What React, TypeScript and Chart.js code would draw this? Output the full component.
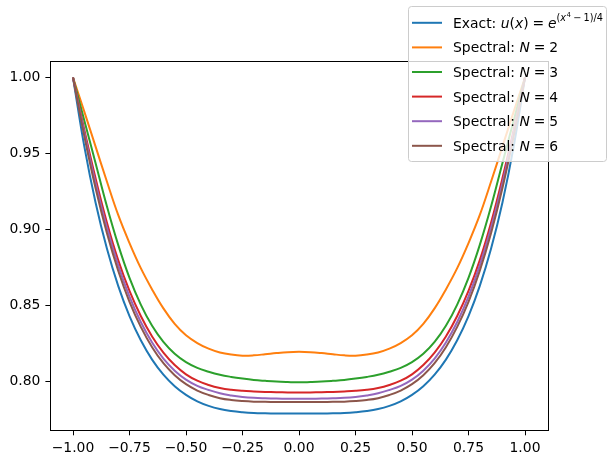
import { useEffect, useRef } from "react";
import { Chart, registerables } from "chart.js";

Chart.register(...registerables);

// ---------- data ----------
const xValues = [
  -1.0, -0.95, -0.9, -0.85, -0.8, -0.75, -0.7, -0.65, -0.6, -0.55, -0.5,
  -0.45, -0.4, -0.35, -0.3, -0.25, -0.2, -0.15, -0.1, -0.05, 0.0,
  0.05, 0.1, 0.15, 0.2, 0.25, 0.3, 0.35, 0.4, 0.45, 0.5,
  0.55, 0.6, 0.65, 0.7, 0.75, 0.8, 0.85, 0.9, 0.95, 1.0,
];

const exactValues = [
  1.0, 0.9547, 0.9176, 0.8874, 0.8628, 0.8429, 0.827, 0.8143, 0.8044, 0.7968, 0.7911,
  0.7868, 0.7838, 0.7817, 0.7804, 0.7796, 0.7791, 0.7789, 0.7788, 0.7788, 0.7788,
  0.7788, 0.7788, 0.7789, 0.7791, 0.7796, 0.7804, 0.7817, 0.7838, 0.7868, 0.7911,
  0.7968, 0.8044, 0.8143, 0.827, 0.8429, 0.8628, 0.8874, 0.9176, 0.9547, 1.0,
];

const spectralN2 = [
  1.0, 0.9775, 0.9545, 0.9315, 0.9095, 0.891, 0.8745, 0.8605, 0.848, 0.8378, 0.8303,
  0.8252, 0.8215, 0.819, 0.8176, 0.8169, 0.8171, 0.8178, 0.8186, 0.8192, 0.8194,
  0.8192, 0.8186, 0.8178, 0.8171, 0.8169, 0.8176, 0.819, 0.8215, 0.8252, 0.8303,
  0.8378, 0.848, 0.8605, 0.8745, 0.891, 0.9095, 0.9315, 0.9545, 0.9775, 1.0,
];

const spectralN3 = [
  1.0, 0.9717, 0.9436, 0.9152, 0.8898, 0.8681, 0.8505, 0.8365, 0.8259, 0.8181, 0.8126,
  0.8088, 0.8063, 0.8043, 0.8029, 0.8018, 0.8009, 0.8003, 0.7998, 0.7995, 0.7993,
  0.7995, 0.7998, 0.8003, 0.8009, 0.8018, 0.8029, 0.8043, 0.8063, 0.8088, 0.8126,
  0.8181, 0.8259, 0.8365, 0.8505, 0.8681, 0.8898, 0.9152, 0.9436, 0.9717, 1.0,
];

const spectralN4 = [
  1.0, 0.9657, 0.9336, 0.9046, 0.8798, 0.8595, 0.843, 0.8295, 0.8189, 0.8107, 0.8046,
  0.8004, 0.7976, 0.7956, 0.7944, 0.7937, 0.7933, 0.793, 0.7928, 0.7927, 0.7927,
  0.7927, 0.7928, 0.793, 0.7933, 0.7937, 0.7944, 0.7956, 0.7976, 0.8004, 0.8046,
  0.8107, 0.8189, 0.8295, 0.843, 0.8595, 0.8798, 0.9046, 0.9336, 0.9657, 1.0,
];

const spectralN5 = [
  1.0, 0.9637, 0.9304, 0.9012, 0.8763, 0.8557, 0.839, 0.8255, 0.8149, 0.807, 0.8011,
  0.797, 0.7943, 0.7921, 0.7907, 0.7897, 0.7891, 0.7888, 0.7886, 0.7885, 0.7885,
  0.7885, 0.7886, 0.7888, 0.7891, 0.7897, 0.7907, 0.7921, 0.7943, 0.797, 0.8011,
  0.807, 0.8149, 0.8255, 0.839, 0.8557, 0.8763, 0.9012, 0.9304, 0.9637, 1.0,
];

const spectralN6 = [
  1.0, 0.9615, 0.9271, 0.8976, 0.8728, 0.8523, 0.8358, 0.8224, 0.8119, 0.804, 0.7981,
  0.7939, 0.791, 0.7889, 0.7877, 0.787, 0.7866, 0.7865, 0.7864, 0.7864, 0.7864,
  0.7864, 0.7864, 0.7865, 0.7866, 0.787, 0.7877, 0.7889, 0.791, 0.7939, 0.7981,
  0.804, 0.8119, 0.8224, 0.8358, 0.8523, 0.8728, 0.8976, 0.9271, 0.9615, 1.0,
];

const xTicks = [-1.0, -0.75, -0.5, -0.25, 0.0, 0.25, 0.5, 0.75, 1.0];
const yTicks = [0.8, 0.85, 0.9, 0.95, 1.0];

const seriesLabels = [
  "Exact: u(x) = e^((x⁴ − 1)/4)",
  "Spectral: N = 2",
  "Spectral: N = 3",
  "Spectral: N = 4",
  "Spectral: N = 5",
  "Spectral: N = 6",
];
const seriesValues = [exactValues, spectralN2, spectralN3, spectralN4, spectralN5, spectralN6];
const seriesColors = ["#1f77b4", "#ff7f0e", "#2ca02c", "#d62728", "#9467bd", "#8c564b"];

// ---------- styling ----------
const FONT = "'DejaVu Sans', sans-serif";
const FS = 13.9;

const fmt = (v: number) => v.toFixed(2).replace("-", "\u2212");

type Seg = { t: string; it?: boolean; s?: number; dy?: number; dx?: number };

const legendRich: Seg[][] = [
  [
    { t: "Exact: " },
    { t: "u", it: true },
    { t: "(" },
    { t: "x", it: true },
    { t: ")" },
    { t: "=", dx: 3.9 },
    { t: "e", it: true, dx: 3.9 },
    { t: "(", s: 0.7, dy: -7 },
    { t: "x", it: true, s: 0.7, dy: -7 },
    { t: "4", s: 0.5, dy: -10.5, dx: 0.5 },
    { t: "\u2212", s: 0.7, dy: -7, dx: 2.2 },
    { t: "1)/4", s: 0.7, dy: -7, dx: 2.2 },
  ],
  ...[2, 3, 4, 5, 6].map((n) => [
    { t: "Spectral: " },
    { t: "N", it: true },
    { t: "=", dx: 3.9 },
    { t: String(n), dx: 3.9 },
  ]),
];

const mplPlugin = {
  id: "mplDecor",
  afterDatasetsDraw(chart: any) {
    const ctx = chart.ctx as CanvasRenderingContext2D;
    const a = chart.chartArea;
    ctx.save();
    ctx.strokeStyle = "#000";
    ctx.lineWidth = 1;
    const l = Math.round(a.left) + 0.5;
    const t = Math.round(a.top) + 0.5;
    const r = Math.round(a.right) + 0.5;
    const b = Math.round(a.bottom) + 0.5;
    ctx.strokeRect(l, t, r - l, b - t);
    ctx.restore();
  },
  afterDraw(chart: any) {
    const ctx = chart.ctx as CanvasRenderingContext2D;
    const x0 = 408.5;
    const y0 = 6.5;
    const x1 = 606.5;
    const y1 = 161.5;
    const rad = 3;
    ctx.save();
    ctx.beginPath();
    ctx.moveTo(x0 + rad, y0);
    ctx.lineTo(x1 - rad, y0);
    ctx.arcTo(x1, y0, x1, y0 + rad, rad);
    ctx.lineTo(x1, y1 - rad);
    ctx.arcTo(x1, y1, x1 - rad, y1, rad);
    ctx.lineTo(x0 + rad, y1);
    ctx.arcTo(x0, y1, x0, y1 - rad, rad);
    ctx.lineTo(x0, y0 + rad);
    ctx.arcTo(x0, y0, x0 + rad, y0, rad);
    ctx.closePath();
    ctx.fillStyle = "rgba(255,255,255,0.8)";
    ctx.fill();
    ctx.strokeStyle = "#cccccc";
    ctx.lineWidth = 1;
    ctx.stroke();

    const datasets = chart.data.datasets;
    for (let i = 0; i < datasets.length; i++) {
      const rowY = 22.8 + i * 24.6;
      ctx.strokeStyle = datasets[i].borderColor;
      ctx.lineWidth = 2;
      ctx.beginPath();
      ctx.moveTo(412, rowY);
      ctx.lineTo(442, rowY);
      ctx.stroke();

      let x = 453;
      const base = rowY + 5;
      ctx.fillStyle = "#000";
      ctx.textBaseline = "alphabetic";
      ctx.textAlign = "left";
      for (const seg of legendRich[i]) {
        const size = FS * (seg.s ?? 1);
        ctx.font = `${seg.it ? "italic " : ""}${size}px ${FONT}`;
        x += seg.dx ?? 0;
        ctx.fillText(seg.t, x, base + (seg.dy ?? 0));
        x += ctx.measureText(seg.t).width;
      }
    }
    ctx.restore();
  },
};

export default function App() {
  const ref = useRef<HTMLCanvasElement | null>(null);

  useEffect(() => {
    document.body.style.margin = "0";
    const canvas = ref.current;
    if (!canvas) return;

    const datasets = seriesValues.map((vals, i) => ({
      label: seriesLabels[i],
      data: xValues.map((x, j) => ({ x, y: vals[j] })),
      borderColor: seriesColors[i],
      backgroundColor: seriesColors[i],
      borderWidth: 2,
      pointRadius: 0,
      fill: false,
      tension: 0.4,
      order: seriesValues.length - i,
    }));

    const chart = new Chart(canvas, {
      type: "line",
      data: { datasets },
      options: {
        animation: false,
        responsive: false,
        devicePixelRatio: 1,
        layout: { padding: { left: 0, top: 60.7, right: 65.4, bottom: 0 } },
        plugins: {
          legend: { display: false },
          tooltip: { enabled: false },
          title: { display: false },
        },
        scales: {
          x: {
            type: "linear",
            min: -1.1,
            max: 1.1,
            afterBuildTicks: (scale: any) => {
              scale.ticks = xTicks.map((v) => ({ value: v }));
            },
            afterFit: (scale: any) => {
              scale.height = 32.7;
            },
            ticks: {
              autoSkip: false,
              maxRotation: 0,
              padding: 5,
              color: "#000",
              font: { family: FONT, size: FS },
              callback: (v: any) => fmt(Number(v)),
            },
            grid: {
              display: true,
              drawOnChartArea: false,
              drawTicks: true,
              tickLength: 5,
              tickColor: "#000",
              tickWidth: 1,
            },
            border: { display: false },
          },
          y: {
            type: "linear",
            min: 0.76774,
            max: 1.01106,
            afterBuildTicks: (scale: any) => {
              scale.ticks = yTicks.map((v) => ({ value: v }));
            },
            afterFit: (scale: any) => {
              scale.width = 50.4;
            },
            ticks: {
              autoSkip: false,
              padding: 5,
              color: "#000",
              font: { family: FONT, size: FS },
              callback: (v: any) => fmt(Number(v)),
            },
            grid: {
              display: true,
              drawOnChartArea: false,
              drawTicks: true,
              tickLength: 5,
              tickColor: "#000",
              tickWidth: 1,
            },
            border: { display: false },
          },
        },
      },
      plugins: [mplPlugin],
    });

    return () => chart.destroy();
  }, []);

  return (
    <div style={{ width: 613, height: 463 }}>
      <canvas ref={ref} width={613} height={463} style={{ display: "block" }} />
    </div>
  );
}
